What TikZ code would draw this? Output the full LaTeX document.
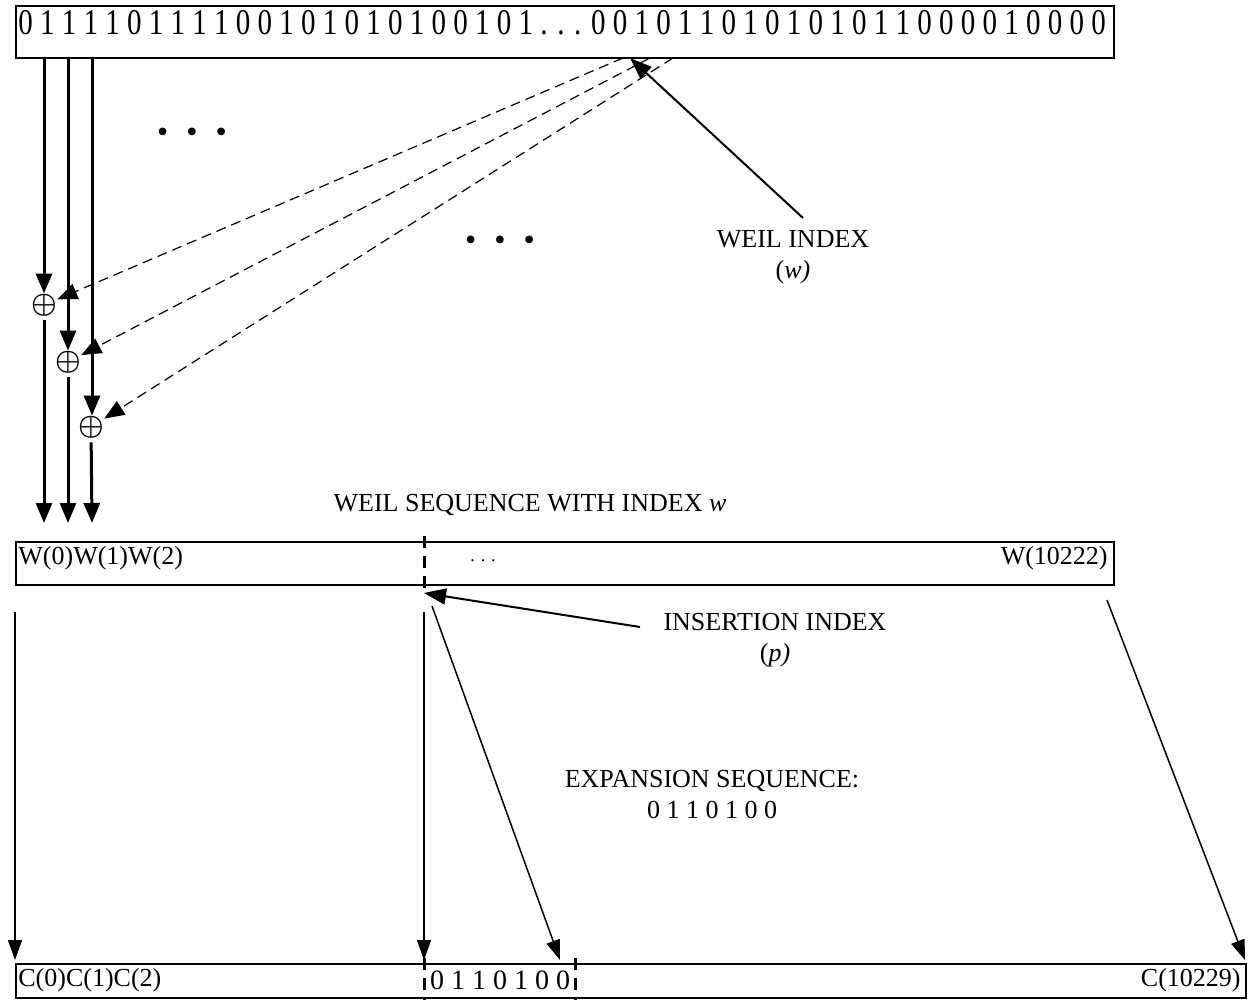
\documentclass[tikz,border=0pt]{standalone}
\usepackage{amsmath}
\usepackage{fontspec}
\setmainfont{Liberation Serif}
\usepackage{graphicx}
\usepackage{tikz}
\usetikzlibrary{arrows.meta, positioning, calc}

\newcommand{\tallrow}[1]{\scalebox{1}[1.25]{#1}}

\begin{document}
\begin{tikzpicture}[
  x=0.5pt, y=-0.5pt,
  seqbox/.style={draw, line width=1pt, inner sep=0pt, anchor=north west},
  bits/.style={font=\fontsize{14.5}{17}\selectfont, inner sep=0pt},
  lbl/.style={font=\fontsize{13}{15.5}\selectfont, inner sep=0pt, align=center},
  xorop/.style={inner sep=0pt, font=\fontsize{15}{15}\selectfont},
  ellip/.style={font=\fontsize{16}{16}\selectfont, inner sep=0pt},
  fwd/.style={-{Triangle[length=10pt, width=8pt]}, line width=1.5pt},
  link/.style={-{Triangle[length=10pt, width=7pt]}, line width=0.75pt},
  ptr/.style={-{Triangle[length=11pt, width=8pt]}, line width=1pt},
  mask/.style={-{Triangle[length=10pt, width=8pt]}, line width=0.6pt, dash pattern=on 5pt off 3pt},
  cut/.style={line width=1.5pt, dash pattern=on 6pt off 4pt},
]
\useasboundingbox (0,0) rectangle (1257,1000);

% Key stream
\node[seqbox, minimum width=549pt, minimum height=26pt] (keybox) at (15,5) {};
\node[bits, anchor=north west] (keybits) at (18,10) {\tallrow{0 1 1 1 1 0 1 1 1 1 0 0 1 0 1 0 1 0 1 0 0 1 0 1 . . . 0 0 1 0 1 1 0 1 0 1 0 1 0 1 1 0 0 0 0 1 0 0 0 0}};

% XOR stages
\node[xorop] (xor0) at (44,305) {$\boldsymbol{\oplus}$};
\node[xorop] (xor1) at (68,362) {$\boldsymbol{\oplus}$};
\node[xorop] (xor2) at (91,427) {$\boldsymbol{\oplus}$};

\coordinate (k0) at (44,57);
\coordinate (k1) at (68,57);
\coordinate (k2) at (92,57);
\draw[fwd] (k0) -- (k0 |- xor0.north);
\draw[fwd] (k1) -- (k1 |- xor1.north);
\draw[fwd] (k2) -- (k2 |- xor2.north);

\coordinate (m0) at (623,58);
\coordinate (m1) at (650,58);
\coordinate (m2) at (673,58);
\draw[mask] (m0) -- (xor0);
\draw[mask] (m1) -- (xor1);
\draw[mask] (m2) -- (xor2);

\node[ellip] (dotsA) at (192,135) {\textbullet\hspace{9pt}\textbullet\hspace{9pt}\textbullet};
\node[ellip] (dotsB) at (500,243) {\textbullet\hspace{9pt}\textbullet\hspace{9pt}\textbullet};

% Weil index
\node[lbl] (widx) at (793,257) {WEIL INDEX\\(\textit{w)}};
\coordinate (wtail) at (803,218);
\coordinate (wtip) at (630,58);
\draw[ptr] (wtail) -- (wtip);

% Weil sequence
\node[lbl] (wseqlbl) at (530,505) {WEIL SEQUENCE WITH INDEX \textit{w}};
\node[seqbox, minimum width=549pt, minimum height=21.5pt] (wbox) at (15,541) {};
\node[lbl, anchor=north west] (wfirst) at (18,546) {W(0)W(1)W(2)};
\node[lbl, anchor=north east] (wlast) at (1108,546) {W(10222)};
\node[lbl, font=\fontsize{9}{9}\selectfont] (wdots) at (483,561) {. . .};
\draw[cut] (424,536) -- (424,590);

\coordinate (w0) at (44,523);
\coordinate (w1) at (68,523);
\coordinate (w2) at (92,523);
\draw[fwd, shorten <=2pt] (xor0) -- (w0);
\draw[fwd, shorten <=2pt] (xor1) -- (w1);
\draw[fwd, shorten <=2pt] (xor2) -- (w2);

% Insertion index
\node[lbl] (pidx) at (775,640) {INSERTION INDEX\\(\textit{p)}};
\coordinate (ptail) at (640,627);
\coordinate (ptip) at (424,593);
\draw[ptr] (ptail) -- (ptip);

\node[lbl] (expseq) at (712,795) {EXPANSION SEQUENCE:\\0 1 1 0 1 0 0};

% Expanded sequence
\node[seqbox, minimum width=615pt, minimum height=17pt] (cbox) at (15,963) {};
\node[lbl, anchor=west] (cfirst) at (18,980) {C(0)C(1)C(2)};
\node[lbl, anchor=east] (clast) at (1241,980) {C(10229)};
\node[bits, font=\fontsize{14}{16}\selectfont] (cins) at (500,980) {0 1 1 0 1 0 0};
\draw[cut] (424,958) -- (424,1000);
\draw[cut] (575,958) -- (575,1000);

\coordinate (a0) at (15,612);
\coordinate (a1) at (424,612);
\coordinate (a2) at (432,606);
\coordinate (a3) at (1107,600);
\coordinate (c0) at (15,960);
\coordinate (c1) at (424,960);
\coordinate (c2) at (560,960);
\coordinate (c3) at (1245,960);
\draw[link] (a0) -- (c0);
\draw[link] (a1) -- (c1);
\draw[link] (a2) -- (c2);
\draw[link] (a3) -- (c3);

\end{tikzpicture}
\end{document}
